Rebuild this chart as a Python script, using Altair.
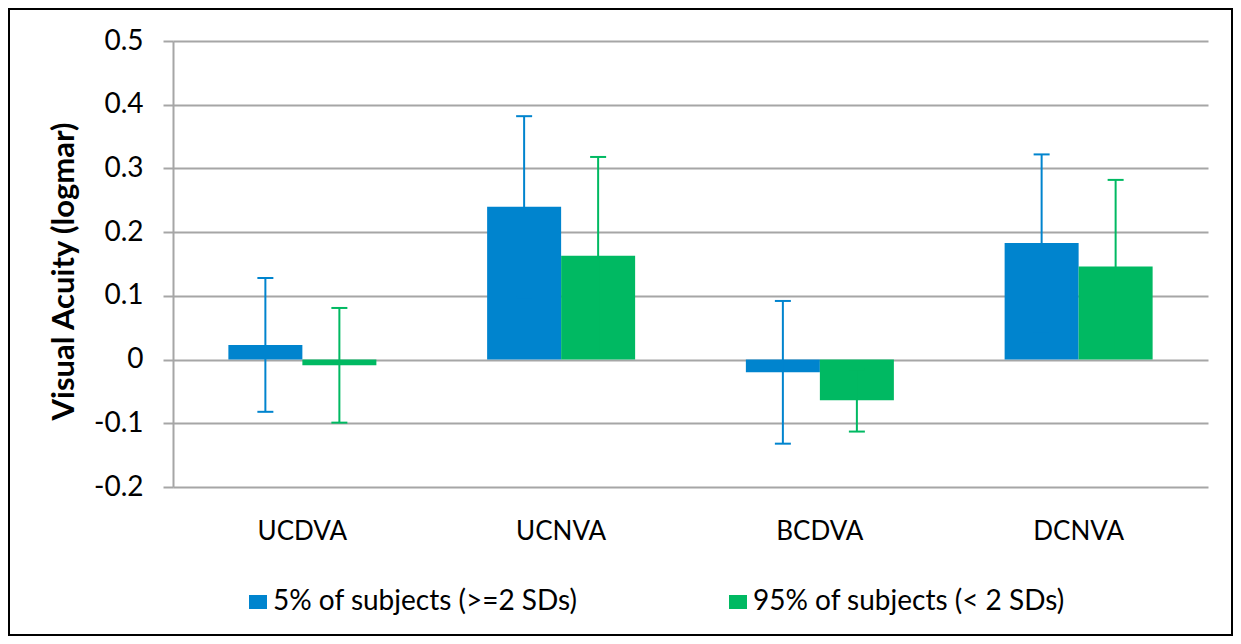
import altair as alt
import pandas as pd

categories = ["UCDVA", "UCNVA", "BCDVA", "DCNVA"]
series_names = ["5% of subjects (>=2 SDs)", "95% of subjects (< 2 SDs)"]
blue_values = [0.023, 0.240, -0.020, 0.183]
blue_errors = [0.105, 0.142, 0.112, 0.139]
green_values = [-0.009, 0.163, -0.064, 0.146]
green_errors = [0.090, 0.155, 0.049, 0.136]
y_ticks = [-0.2, -0.1, 0.0, 0.1, 0.2, 0.3, 0.4, 0.5]
colors = ["#0084CE", "#00B962"]

rows = []
for name, vals, errs in [(series_names[0], blue_values, blue_errors),
                         (series_names[1], green_values, green_errors)]:
    for c, v, e in zip(categories, vals, errs):
        rows.append({"cat": c, "series": name, "value": v, "lo": v - e, "hi": v + e})
df = pd.DataFrame(rows)

FONT = "Lato"
GRID = "#A6A6A6"

x_enc = alt.X("cat:N", sort=categories,
              scale=alt.Scale(paddingInner=0.428, paddingOuter=0.214),
              axis=alt.Axis(title=None, domain=False, ticks=False, labelAngle=0,
                            labelFont=FONT, labelFontSize=26, labelColor="#000000",
                            labelBaseline="middle", labelPadding=44))
xoff = alt.XOffset("series:N", sort=series_names,
                   scale=alt.Scale(paddingInner=0, paddingOuter=0))
color = alt.Color("series:N", sort=series_names,
                  scale=alt.Scale(domain=series_names, range=colors),
                  legend=alt.Legend(title=None, orient="none", direction="horizontal",
                                    legendX=71, legendY=547,
                                    symbolType="M-1,-0.78H1V0.78H-1Z", symbolSize=324,
                                    symbolStrokeWidth=0, symbolOpacity=1,
                                    labelFont=FONT, labelFontSize=28, labelColor="#000000",
                                    labelLimit=0,
                                    labelOffset=1, columnPadding=146, padding=0))

y_scale = alt.Scale(domain=[-0.2, 0.5], nice=False, zero=False)
y_axis = alt.Axis(title="Visual Acuity (logmar)", values=y_ticks,
                  labelExpr="datum.value == 0 ? '0' : (datum.value < 0 ? '-' : '') + format(abs(datum.value), '.1f')",
                  labelFont=FONT, labelFontSize=28, labelColor="#000000", labelPadding=20,
                  domain=True, domainColor=GRID, domainWidth=2,
                  ticks=True, tickColor=GRID, tickWidth=2, tickSize=10,
                  grid=True, gridColor=GRID, gridWidth=2,
                  titleFont=FONT, titleFontSize=31, titleFontWeight="bold", titleColor="#000000",
                  titleAngle=270, titleX=-109, titleY=230, titleAlign="center",
                  titleBaseline="middle")

base = alt.Chart(df)

bars = base.mark_bar(opacity=1).encode(
    x=x_enc, xOffset=xoff,
    y=alt.Y("value:Q", scale=y_scale, axis=y_axis),
    color=color,
)

err = base.mark_rule(strokeWidth=2).encode(
    x=alt.X("cat:N", sort=categories), xOffset=xoff,
    y=alt.Y("lo:Q", scale=y_scale), y2="hi:Q",
    color=alt.Color("series:N", sort=series_names, legend=None),
)

cap_lo = base.mark_tick(size=16, thickness=2, opacity=1).encode(
    x=alt.X("cat:N", sort=categories), xOffset=xoff,
    y=alt.Y("lo:Q", scale=y_scale),
    color=alt.Color("series:N", sort=series_names, legend=None),
)
cap_hi = base.mark_tick(size=16, thickness=2, opacity=1).encode(
    x=alt.X("cat:N", sort=categories), xOffset=xoff,
    y=alt.Y("hi:Q", scale=y_scale),
    color=alt.Color("series:N", sort=series_names, legend=None),
)

frame = alt.Chart(pd.DataFrame({"f": [0]})).mark_rect(
    filled=False, stroke="#000000", strokeWidth=2, clip=False
).encode(
    x=alt.value(-164), x2=alt.value(1059),
    y=alt.value(-32), y2=alt.value(594),
)

chart = alt.layer(bars, err, cap_lo, cap_hi, frame).properties(
    width=1035, height=446,
    autosize=alt.AutoSizeParams(type="none"),
    padding={"left": 165, "top": 33, "right": 25, "bottom": 149},
    background="#FFFFFF",
).configure_view(strokeWidth=0)

chart.save("out.html", embed_options={"renderer": "svg", "actions": False})
